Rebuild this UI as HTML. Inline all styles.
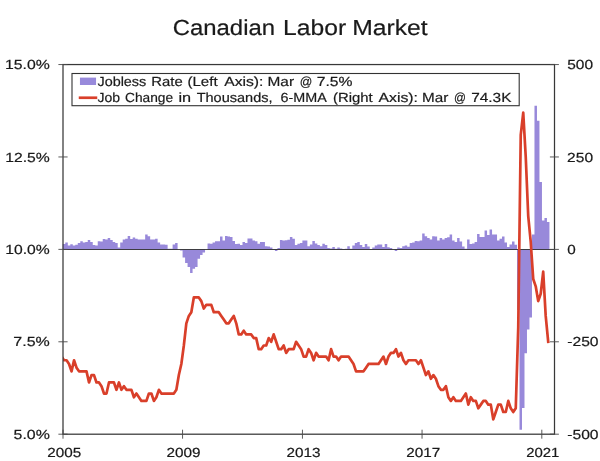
<!DOCTYPE html>
<html lang="en"><head><meta charset="utf-8"><title>Canadian Labor Market</title>
<style>
html,body{margin:0;padding:0;background:#ffffff;}
body{width:600px;height:461px;overflow:hidden;font-family:"Liberation Sans",sans-serif;}
svg text{font-family:"Liberation Sans",sans-serif;text-rendering:geometricPrecision;stroke:#1a1a1a;stroke-width:0.2px;}
</style></head><body>
<svg width="600" height="461" viewBox="0 0 600 461" style="display:block;will-change:transform">
<defs><clipPath id="plot"><rect x="63.0" y="64.55" width="491.5" height="369.65"/></clipPath></defs>
<rect width="600" height="461" fill="#ffffff"/>
<path d="M62.80 249.38V243.88H65.30V249.38ZM65.30 249.38V242.38H67.79V249.38ZM67.79 249.38V245.38H70.29V249.38ZM70.29 249.38V244.18H72.78V249.38ZM72.78 249.38V245.47H75.28V249.38ZM75.28 249.38V244.68H77.78V249.38ZM77.78 249.38V243.07H80.27V249.38ZM80.27 249.38V241.28H82.77V249.38ZM82.77 249.38V242.38H85.26V249.38ZM85.26 249.38V241.88H87.76V249.38ZM87.76 249.38V239.97H90.25V249.38ZM90.25 249.38V241.97H92.75V249.38ZM92.75 249.38V244.97H95.24V249.38ZM95.24 249.38V245.38H97.74V249.38ZM97.74 249.38V241.28H100.24V249.38ZM100.24 249.38V241.62H102.73V249.38ZM102.73 249.38V239.12H105.23V249.38ZM105.23 249.38V239.38H107.72V249.38ZM107.72 249.38V238.12H110.22V249.38ZM110.22 249.38V239.97H112.71V249.38ZM112.71 249.38V242.12H115.21V249.38ZM115.21 249.38V243.12H117.71V249.38ZM117.71 249.38V247.47H120.20V249.38ZM120.20 249.38V242.47H122.70V249.38ZM122.70 249.38V239.62H125.19V249.38ZM125.19 249.38V238.78H127.69V249.38ZM127.69 249.38V235.88H130.18V249.38ZM130.18 249.38V238.97H132.68V249.38ZM132.68 249.38V237.47H135.17V249.38ZM135.17 249.38V238.78H137.67V249.38ZM137.67 249.38V239.38H140.17V249.38ZM140.17 249.38V239.62H142.66V249.38ZM142.66 249.38V239.62H145.16V249.38ZM145.16 249.38V234.38H147.65V249.38ZM147.65 249.38V236.28H150.15V249.38ZM150.15 249.38V239.38H152.64V249.38ZM152.64 249.38V239.38H155.14V249.38ZM155.14 249.38V238.78H157.64V249.38ZM157.63 249.38V242.47H160.13V249.38ZM160.13 249.38V244.38H162.63V249.38ZM162.63 249.38V244.38H165.12V249.38ZM165.12 249.38V244.78H167.62V249.38ZM167.62 249.38V248.78H170.11V249.38ZM170.11 249.38V248.78H172.61V249.38ZM172.61 249.38V244.38H175.10V249.38ZM175.10 249.38V243.12H177.60V249.38ZM180.10 249.38V250.38H182.59V249.38ZM182.59 249.38V257.48H185.09V249.38ZM185.09 249.38V263.12H187.58V249.38ZM187.58 249.38V266.88H190.08V249.38ZM190.08 249.38V272.88H192.57V249.38ZM192.57 249.38V268.77H195.07V249.38ZM195.07 249.38V266.88H197.56V249.38ZM197.56 249.38V258.77H200.06V249.38ZM200.06 249.38V254.97H202.56V249.38ZM202.56 249.38V252.47H205.05V249.38ZM207.55 249.38V243.38H210.04V249.38ZM210.04 249.38V243.78H212.54V249.38ZM212.54 249.38V242.47H215.03V249.38ZM215.03 249.38V241.28H217.53V249.38ZM217.53 249.38V241.28H220.03V249.38ZM220.03 249.38V236.62H222.52V249.38ZM222.52 249.38V240.62H225.02V249.38ZM225.02 249.38V235.88H227.51V249.38ZM227.51 249.38V236.62H230.01V249.38ZM230.01 249.38V236.88H232.50V249.38ZM232.50 249.38V240.88H235.00V249.38ZM235.00 249.38V244.12H237.49V249.38ZM237.49 249.38V243.78H239.99V249.38ZM239.99 249.38V244.97H242.49V249.38ZM242.49 249.38V241.88H244.98V249.38ZM244.98 249.38V242.88H247.48V249.38ZM247.48 249.38V238.38H249.97V249.38ZM249.97 249.38V238.38H252.47V249.38ZM252.47 249.38V240.38H254.96V249.38ZM254.96 249.38V241.28H257.46V249.38ZM257.46 249.38V243.78H259.95V249.38ZM259.95 249.38V242.12H262.45V249.38ZM262.45 249.38V242.12H264.95V249.38ZM264.95 249.38V246.28H267.44V249.38ZM267.44 249.38V246.47H269.94V249.38ZM269.94 249.38V247.47H272.43V249.38ZM272.43 249.38V249.12H274.93V249.38ZM274.93 249.38V250.88H277.42V249.38ZM277.42 249.38V248.12H279.92V249.38ZM279.92 249.38V239.97H282.41V249.38ZM282.42 249.38V240.38H284.91V249.38ZM284.91 249.38V240.28H287.41V249.38ZM287.41 249.38V239.78H289.90V249.38ZM289.90 249.38V236.88H292.40V249.38ZM292.40 249.38V238.78H294.89V249.38ZM294.89 249.38V244.97H297.39V249.38ZM297.39 249.38V243.78H299.88V249.38ZM299.88 249.38V242.88H302.38V249.38ZM302.38 249.38V240.62H304.88V249.38ZM304.88 249.38V240.38H307.37V249.38ZM307.37 249.38V246.28H309.87V249.38ZM309.87 249.38V244.38H312.36V249.38ZM312.36 249.38V240.97H314.86V249.38ZM314.86 249.38V243.38H317.35V249.38ZM317.35 249.38V244.97H319.85V249.38ZM319.85 249.38V246.28H322.34V249.38ZM322.34 249.38V243.78H324.84V249.38ZM324.84 249.38V244.97H327.34V249.38ZM327.34 249.38V248.12H329.83V249.38ZM329.83 249.38V248.38H332.33V249.38ZM332.33 249.38V247.12H334.82V249.38ZM334.82 249.38V248.78H337.32V249.38ZM337.32 249.38V247.47H339.81V249.38ZM339.81 249.38V248.57H342.31V249.38ZM342.31 249.38V249.97H344.81V249.38ZM344.81 249.38V248.78H347.30V249.38ZM347.30 249.38V246.28H349.80V249.38ZM349.80 249.38V248.78H352.29V249.38ZM352.29 249.38V245.38H354.79V249.38ZM354.79 249.38V243.12H357.28V249.38ZM357.28 249.38V242.12H359.78V249.38ZM359.78 249.38V244.97H362.27V249.38ZM362.27 249.38V247.12H364.77V249.38ZM364.77 249.38V244.12H367.27V249.38ZM367.27 249.38V246.62H369.76V249.38ZM369.76 249.38V249.12H372.26V249.38ZM372.26 249.38V247.47H374.75V249.38ZM374.75 249.38V245.38H377.25V249.38ZM377.25 249.38V244.38H379.74V249.38ZM379.74 249.38V244.38H382.24V249.38ZM382.24 249.38V246.88H384.73V249.38ZM384.73 249.38V243.97H387.23V249.38ZM387.23 249.38V247.28H389.73V249.38ZM389.73 249.38V247.88H392.22V249.38ZM392.22 249.38V249.62H394.72V249.38ZM394.72 249.38V250.88H397.21V249.38ZM397.21 249.38V247.47H399.71V249.38ZM399.71 249.38V247.88H402.20V249.38ZM402.20 249.38V246.28H404.70V249.38ZM404.70 249.38V245.38H407.19V249.38ZM407.20 249.38V246.78H409.69V249.38ZM409.69 249.38V243.12H412.19V249.38ZM412.19 249.38V242.47H414.68V249.38ZM414.68 249.38V240.88H417.18V249.38ZM417.18 249.38V241.28H419.67V249.38ZM419.67 249.38V240.38H422.17V249.38ZM422.17 249.38V233.38H424.66V249.38ZM424.66 249.38V236.28H427.16V249.38ZM427.16 249.38V238.12H429.66V249.38ZM429.66 249.38V239.62H432.15V249.38ZM432.15 249.38V236.28H434.65V249.38ZM434.65 249.38V236.47H437.14V249.38ZM437.14 249.38V240.38H439.64V249.38ZM439.64 249.38V238.12H442.13V249.38ZM442.13 249.38V239.38H444.63V249.38ZM444.63 249.38V238.12H447.12V249.38ZM447.12 249.38V237.28H449.62V249.38ZM449.62 249.38V234.38H452.12V249.38ZM452.12 249.38V240.62H454.61V249.38ZM454.61 249.38V241.88H457.11V249.38ZM457.11 249.38V238.12H459.60V249.38ZM459.60 249.38V241.62H462.10V249.38ZM462.10 249.38V246.62H464.59V249.38ZM464.59 249.38V248.78H467.09V249.38ZM467.09 249.38V239.38H469.58V249.38ZM469.59 249.38V244.12H472.08V249.38ZM472.08 249.38V243.47H474.58V249.38ZM474.58 249.38V242.12H477.07V249.38ZM477.07 249.38V234.12H479.57V249.38ZM479.57 249.38V237.12H482.06V249.38ZM482.06 249.38V236.88H484.56V249.38ZM484.56 249.38V230.62H487.05V249.38ZM487.05 249.38V234.97H489.55V249.38ZM489.55 249.38V229.62H492.05V249.38ZM492.05 249.38V234.38H494.54V249.38ZM494.54 249.38V234.38H497.04V249.38ZM497.04 249.38V240.62H499.53V249.38ZM499.53 249.38V238.78H502.03V249.38ZM502.03 249.38V236.47H504.52V249.38ZM504.52 249.38V242.47H507.02V249.38ZM507.02 249.38V246.97H509.51V249.38ZM509.51 249.38V244.38H512.01V249.38ZM512.01 249.38V241.47H514.51V249.38ZM514.51 249.38V244.68H517.00V249.38ZM517.00 249.38V309.98H519.50V249.38ZM519.50 249.38V429.77H521.99V249.38ZM521.99 249.38V407.88H524.49V249.38ZM524.49 249.38V353.18H526.98V249.38ZM526.98 249.38V329.48H529.48V249.38ZM529.48 249.38V317.38H531.98V249.38ZM531.98 249.38V234.38H534.47V249.38ZM534.47 249.38V105.78H536.97V249.38ZM536.97 249.38V120.78H539.46V249.38ZM539.46 249.38V181.97H541.96V249.38ZM541.96 249.38V220.62H544.45V249.38ZM544.45 249.38V218.12H546.95V249.38ZM546.95 249.38V221.97H549.44V249.38Z" fill="#6c57cb" fill-opacity="0.7"/>
<path d="M63.0 249.46H554.5" stroke="#242424" stroke-opacity="0.85" stroke-width="1.1" fill="none"/>
<path d="M61.55 356.57L64.05 360.27L66.55 360.27L69.04 363.97L71.54 371.36L74.03 360.27L76.53 367.66L79.02 371.36L81.52 371.36L84.01 371.36L86.51 371.36L89.01 382.45L91.50 375.06L94.00 375.06L96.49 382.45L98.99 382.45L101.48 386.15L103.98 393.54L106.48 393.54L108.97 382.45L111.47 382.45L113.96 382.45L116.46 389.84L118.95 382.45L121.45 389.84L123.94 386.15L126.44 389.84L128.94 389.84L131.43 389.84L133.93 397.24L136.42 393.54L138.92 397.24L141.41 400.93L143.91 400.93L146.40 400.93L148.90 393.54L151.40 393.54L153.89 400.93L156.39 397.24L158.88 389.84L161.38 393.54L163.87 393.54L166.37 393.54L168.87 393.54L171.36 393.54L173.86 393.54L176.35 389.84L178.85 375.06L181.34 363.97L183.84 345.48L186.33 323.31L188.83 315.91L191.33 312.22L193.82 297.43L196.32 297.43L198.81 297.43L201.31 301.13L203.80 308.52L206.30 304.82L208.79 304.82L211.29 304.82L213.79 312.22L216.28 312.22L218.78 312.22L221.27 315.91L223.77 319.61L226.26 323.31L228.76 323.31L231.26 319.61L233.75 315.91L236.25 323.31L238.74 334.39L241.24 334.39L243.73 330.70L246.23 334.39L248.72 334.39L251.22 334.39L253.72 338.09L256.21 338.09L258.71 349.18L261.20 349.18L263.70 345.48L266.19 345.48L268.69 338.09L271.18 341.79L273.68 334.39L276.18 341.79L278.67 349.18L281.17 349.18L283.66 345.48L286.16 352.88L288.65 349.18L291.15 349.18L293.65 349.18L296.14 341.79L298.64 345.48L301.13 349.18L303.63 356.57L306.12 356.57L308.62 349.18L311.11 352.88L313.61 360.27L316.11 352.88L318.60 356.57L321.10 356.57L323.59 356.57L326.09 356.57L328.58 360.27L331.08 349.18L333.57 356.57L336.07 356.57L338.57 360.27L341.06 356.57L343.56 356.57L346.05 356.57L348.55 356.57L351.04 360.27L353.54 363.97L356.04 371.36L358.53 371.36L361.03 371.36L363.52 371.36L366.02 367.66L368.51 363.97L371.01 363.97L373.50 363.97L376.00 363.97L378.50 363.97L380.99 360.27L383.49 356.57L385.98 363.97L388.48 356.57L390.97 352.88L393.47 352.88L395.96 349.18L398.46 356.57L400.96 352.88L403.45 360.27L405.95 363.97L408.44 360.27L410.94 360.27L413.43 360.27L415.93 360.27L418.43 363.97L420.92 360.27L423.42 367.66L425.91 375.06L428.41 371.36L430.90 378.75L433.40 375.06L435.89 378.75L438.39 386.15L440.89 389.84L443.38 389.84L445.88 386.15L448.37 397.24L450.87 400.93L453.36 397.24L455.86 400.93L458.35 400.93L460.85 400.93L463.35 397.24L465.84 393.54L468.34 404.63L470.83 397.24L473.33 400.93L475.82 400.93L478.32 408.32L480.82 404.63L483.31 400.93L485.81 400.93L488.30 404.63L490.80 404.63L493.29 419.41L495.79 412.02L498.28 404.63L500.78 404.63L503.28 412.02L505.77 412.02L508.27 400.93L510.76 408.32L513.26 412.02L515.75 408.32L518.25 327.00L520.74 134.78L523.24 112.60L525.74 156.96L528.23 216.11L530.73 241.98L533.22 278.95L535.72 286.34L538.21 301.13L540.71 293.73L543.21 271.55L545.70 315.91L548.20 341.79" stroke="#d93f2a" stroke-width="2.7" fill="none" stroke-linejoin="round" stroke-linecap="square" clip-path="url(#plot)"/>
<rect x="63.0" y="64.55" width="491.5" height="369.65" fill="none" stroke="#383838" stroke-width="1.25"/>
<path d="M58.4 64.55H67.6M549.9 64.55H558.9M58.4 156.96H67.6M549.9 156.96H558.9M58.4 249.38H67.6M549.9 249.38H558.9M58.4 341.79H67.6M549.9 341.79H558.9M58.4 434.20H67.6M549.9 434.20H558.9M63.0 429.7V438.7M182.55 429.7V438.7M302.45 429.7V438.7M422.05 429.7V438.7M541.8 429.7V438.7" stroke="#4a4a4a" stroke-width="0.9" fill="none"/>
<rect x="72" y="73.5" width="447.2" height="32.2" fill="#ffffff" stroke="#333333" stroke-width="1.1"/>
<rect x="79.95" y="77.6" width="16.1" height="7.4" fill="#988adb"/>
<path d="M80.1 97.75H95.9" stroke="#d93f2a" stroke-width="2.7" stroke-linecap="square" fill="none"/>
<g font-family="'Liberation Sans', sans-serif" fill="#1a1a1a">
<text x="172.68" y="35" font-size="21.7" textLength="102.38" lengthAdjust="spacingAndGlyphs">Canadian</text>
<text x="283.08" y="35" font-size="21.7" textLength="63.03" lengthAdjust="spacingAndGlyphs">Labor</text>
<text x="352.17" y="35" font-size="21.7" textLength="75.50" lengthAdjust="spacingAndGlyphs">Market</text>
<text x="5.00" y="69.17" font-size="13.2" textLength="44.81" lengthAdjust="spacingAndGlyphs">15.0%</text>
<text x="5.20" y="161.58" font-size="13.2" textLength="44.60" lengthAdjust="spacingAndGlyphs">12.5%</text>
<text x="5.31" y="254.00" font-size="13.2" textLength="44.50" lengthAdjust="spacingAndGlyphs">10.0%</text>
<text x="13.38" y="346.41" font-size="13.2" textLength="36.43" lengthAdjust="spacingAndGlyphs">7.5%</text>
<text x="13.56" y="438.82" font-size="13.2" textLength="36.25" lengthAdjust="spacingAndGlyphs">5.0%</text>
<text x="567.28" y="69.17" font-size="13.2" textLength="25.83" lengthAdjust="spacingAndGlyphs">500</text>
<text x="567.12" y="161.58" font-size="13.2" textLength="25.99" lengthAdjust="spacingAndGlyphs">250</text>
<text x="567.30" y="254.00" font-size="13.2" textLength="8.49" lengthAdjust="spacingAndGlyphs">0</text>
<text x="567.21" y="346.41" font-size="13.2" textLength="31.41" lengthAdjust="spacingAndGlyphs">-250</text>
<text x="567.21" y="438.82" font-size="13.2" textLength="31.41" lengthAdjust="spacingAndGlyphs">-500</text>
<text x="47.34" y="457" font-size="13.2" textLength="34.02" lengthAdjust="spacingAndGlyphs">2005</text>
<text x="166.53" y="457" font-size="13.2" textLength="34.10" lengthAdjust="spacingAndGlyphs">2009</text>
<text x="286.53" y="457" font-size="13.2" textLength="34.05" lengthAdjust="spacingAndGlyphs">2013</text>
<text x="406.33" y="457" font-size="13.2" textLength="34.04" lengthAdjust="spacingAndGlyphs">2017</text>
<text x="526.15" y="457" font-size="13.2" textLength="33.29" lengthAdjust="spacingAndGlyphs">2021</text>
<text x="97.47" y="86" font-size="13.2" textLength="48.79" lengthAdjust="spacingAndGlyphs">Jobless</text>
<text x="151.28" y="86" font-size="13.2" textLength="31.38" lengthAdjust="spacingAndGlyphs">Rate</text>
<text x="187.47" y="86" font-size="13.2" textLength="30.14" lengthAdjust="spacingAndGlyphs">(Left</text>
<text x="224.22" y="86" font-size="13.2" textLength="39.21" lengthAdjust="spacingAndGlyphs">Axis):</text>
<text x="267.49" y="86" font-size="13.2" textLength="26.53" lengthAdjust="spacingAndGlyphs">Mar</text>
<text x="299.77" y="86" font-size="13.2" textLength="12.54" lengthAdjust="spacingAndGlyphs">@</text>
<text x="316.70" y="86" font-size="13.2" textLength="35.86" lengthAdjust="spacingAndGlyphs">7.5%</text>
<text x="97.48" y="102" font-size="13.2" textLength="22.62" lengthAdjust="spacingAndGlyphs">Job</text>
<text x="125.05" y="102" font-size="13.2" textLength="48.05" lengthAdjust="spacingAndGlyphs">Change</text>
<text x="178.41" y="102" font-size="13.2" textLength="12.65" lengthAdjust="spacingAndGlyphs">in</text>
<text x="196.68" y="102" font-size="13.2" textLength="75.87" lengthAdjust="spacingAndGlyphs">Thousands,</text>
<text x="280.52" y="102" font-size="13.2" textLength="46.26" lengthAdjust="spacingAndGlyphs">6-MMA</text>
<text x="332.98" y="102" font-size="13.2" textLength="39.62" lengthAdjust="spacingAndGlyphs">(Right</text>
<text x="378.47" y="102" font-size="13.2" textLength="39.47" lengthAdjust="spacingAndGlyphs">Axis):</text>
<text x="422.00" y="102" font-size="13.2" textLength="26.26" lengthAdjust="spacingAndGlyphs">Mar</text>
<text x="454.07" y="102" font-size="13.2" textLength="11.94" lengthAdjust="spacingAndGlyphs">@</text>
<text x="471.21" y="102" font-size="13.2" textLength="40.22" lengthAdjust="spacingAndGlyphs">74.3K</text>
</g>
</svg>
</body></html>
